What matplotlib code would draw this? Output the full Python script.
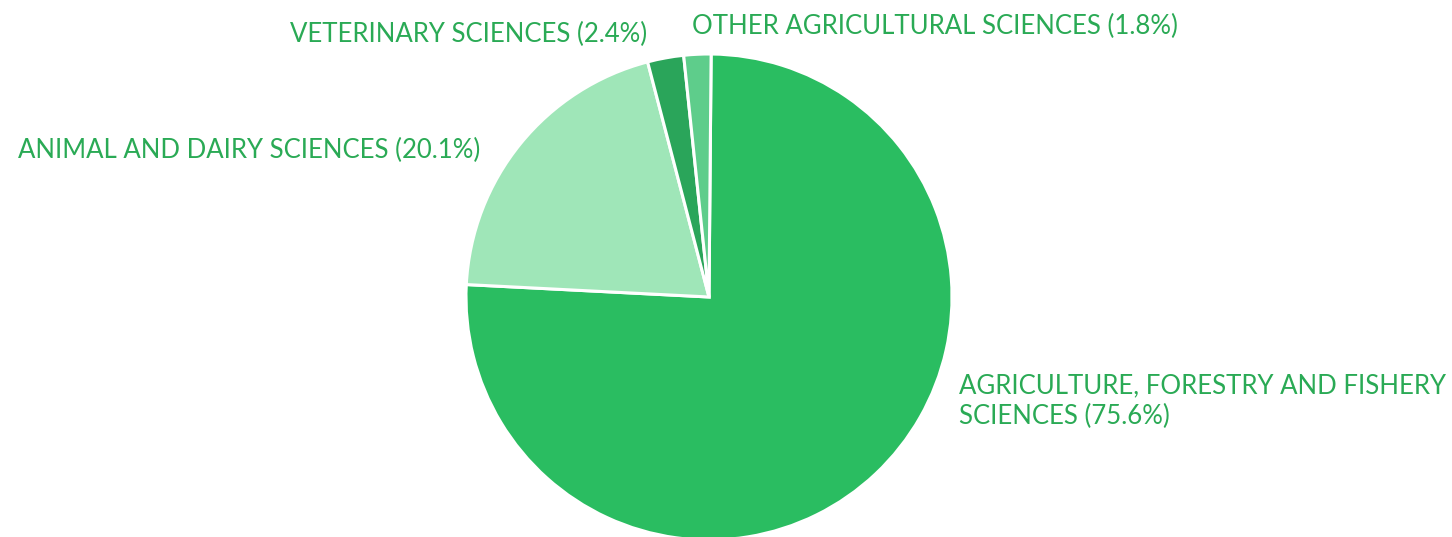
import matplotlib
matplotlib.use("Agg")
import matplotlib.pyplot as plt

categories = ["AGRICULTURE, FORESTRY AND FISHERY\nSCIENCES", "ANIMAL AND DAIRY SCIENCES",
              "VETERINARY SCIENCES", "OTHER AGRICULTURAL SCIENCES"]
shares = [75.6, 20.1, 2.4, 1.8]
colors = ["#2abd61", "#9fe6b8", "#2aa55a", "#5ecd8b"]
text_color = "#2aaa55"

W, H = 1452, 537
fig = plt.figure(figsize=(W / 100, H / 100), dpi=100)
cx, cy, r = 709, 297, 243
ax = fig.add_axes([(cx - r) / W, (H - cy - r) / H, 2 * r / W, 2 * r / H])
ax.pie(shares, colors=colors, startangle=89.5, counterclock=False,
       wedgeprops=dict(edgecolor="white", linewidth=2.2), radius=1)
ax.set_xlim(-1, 1)
ax.set_ylim(-1, 1)
ax.set_aspect("auto")
ax.axis("off")

labels = [f"{c} ({s}%)" for c, s in zip(categories, shares)]
# label anchors in pixel positions (left x, center y)
pos = [(959, 401, "left"), (18, 150, "left"), (290, 34, "left"), (692, 26, "left")]
font = dict(family=["Lato", "DejaVu Sans"], fontweight="normal", fontsize=18.5, color=text_color)
for lab, (x, y, ha) in zip(labels, pos):
    fig.text(x / W, 1 - y / H, lab, ha=ha, va="center", linespacing=1.25, **font)

fig.savefig("out.png", dpi=100)
